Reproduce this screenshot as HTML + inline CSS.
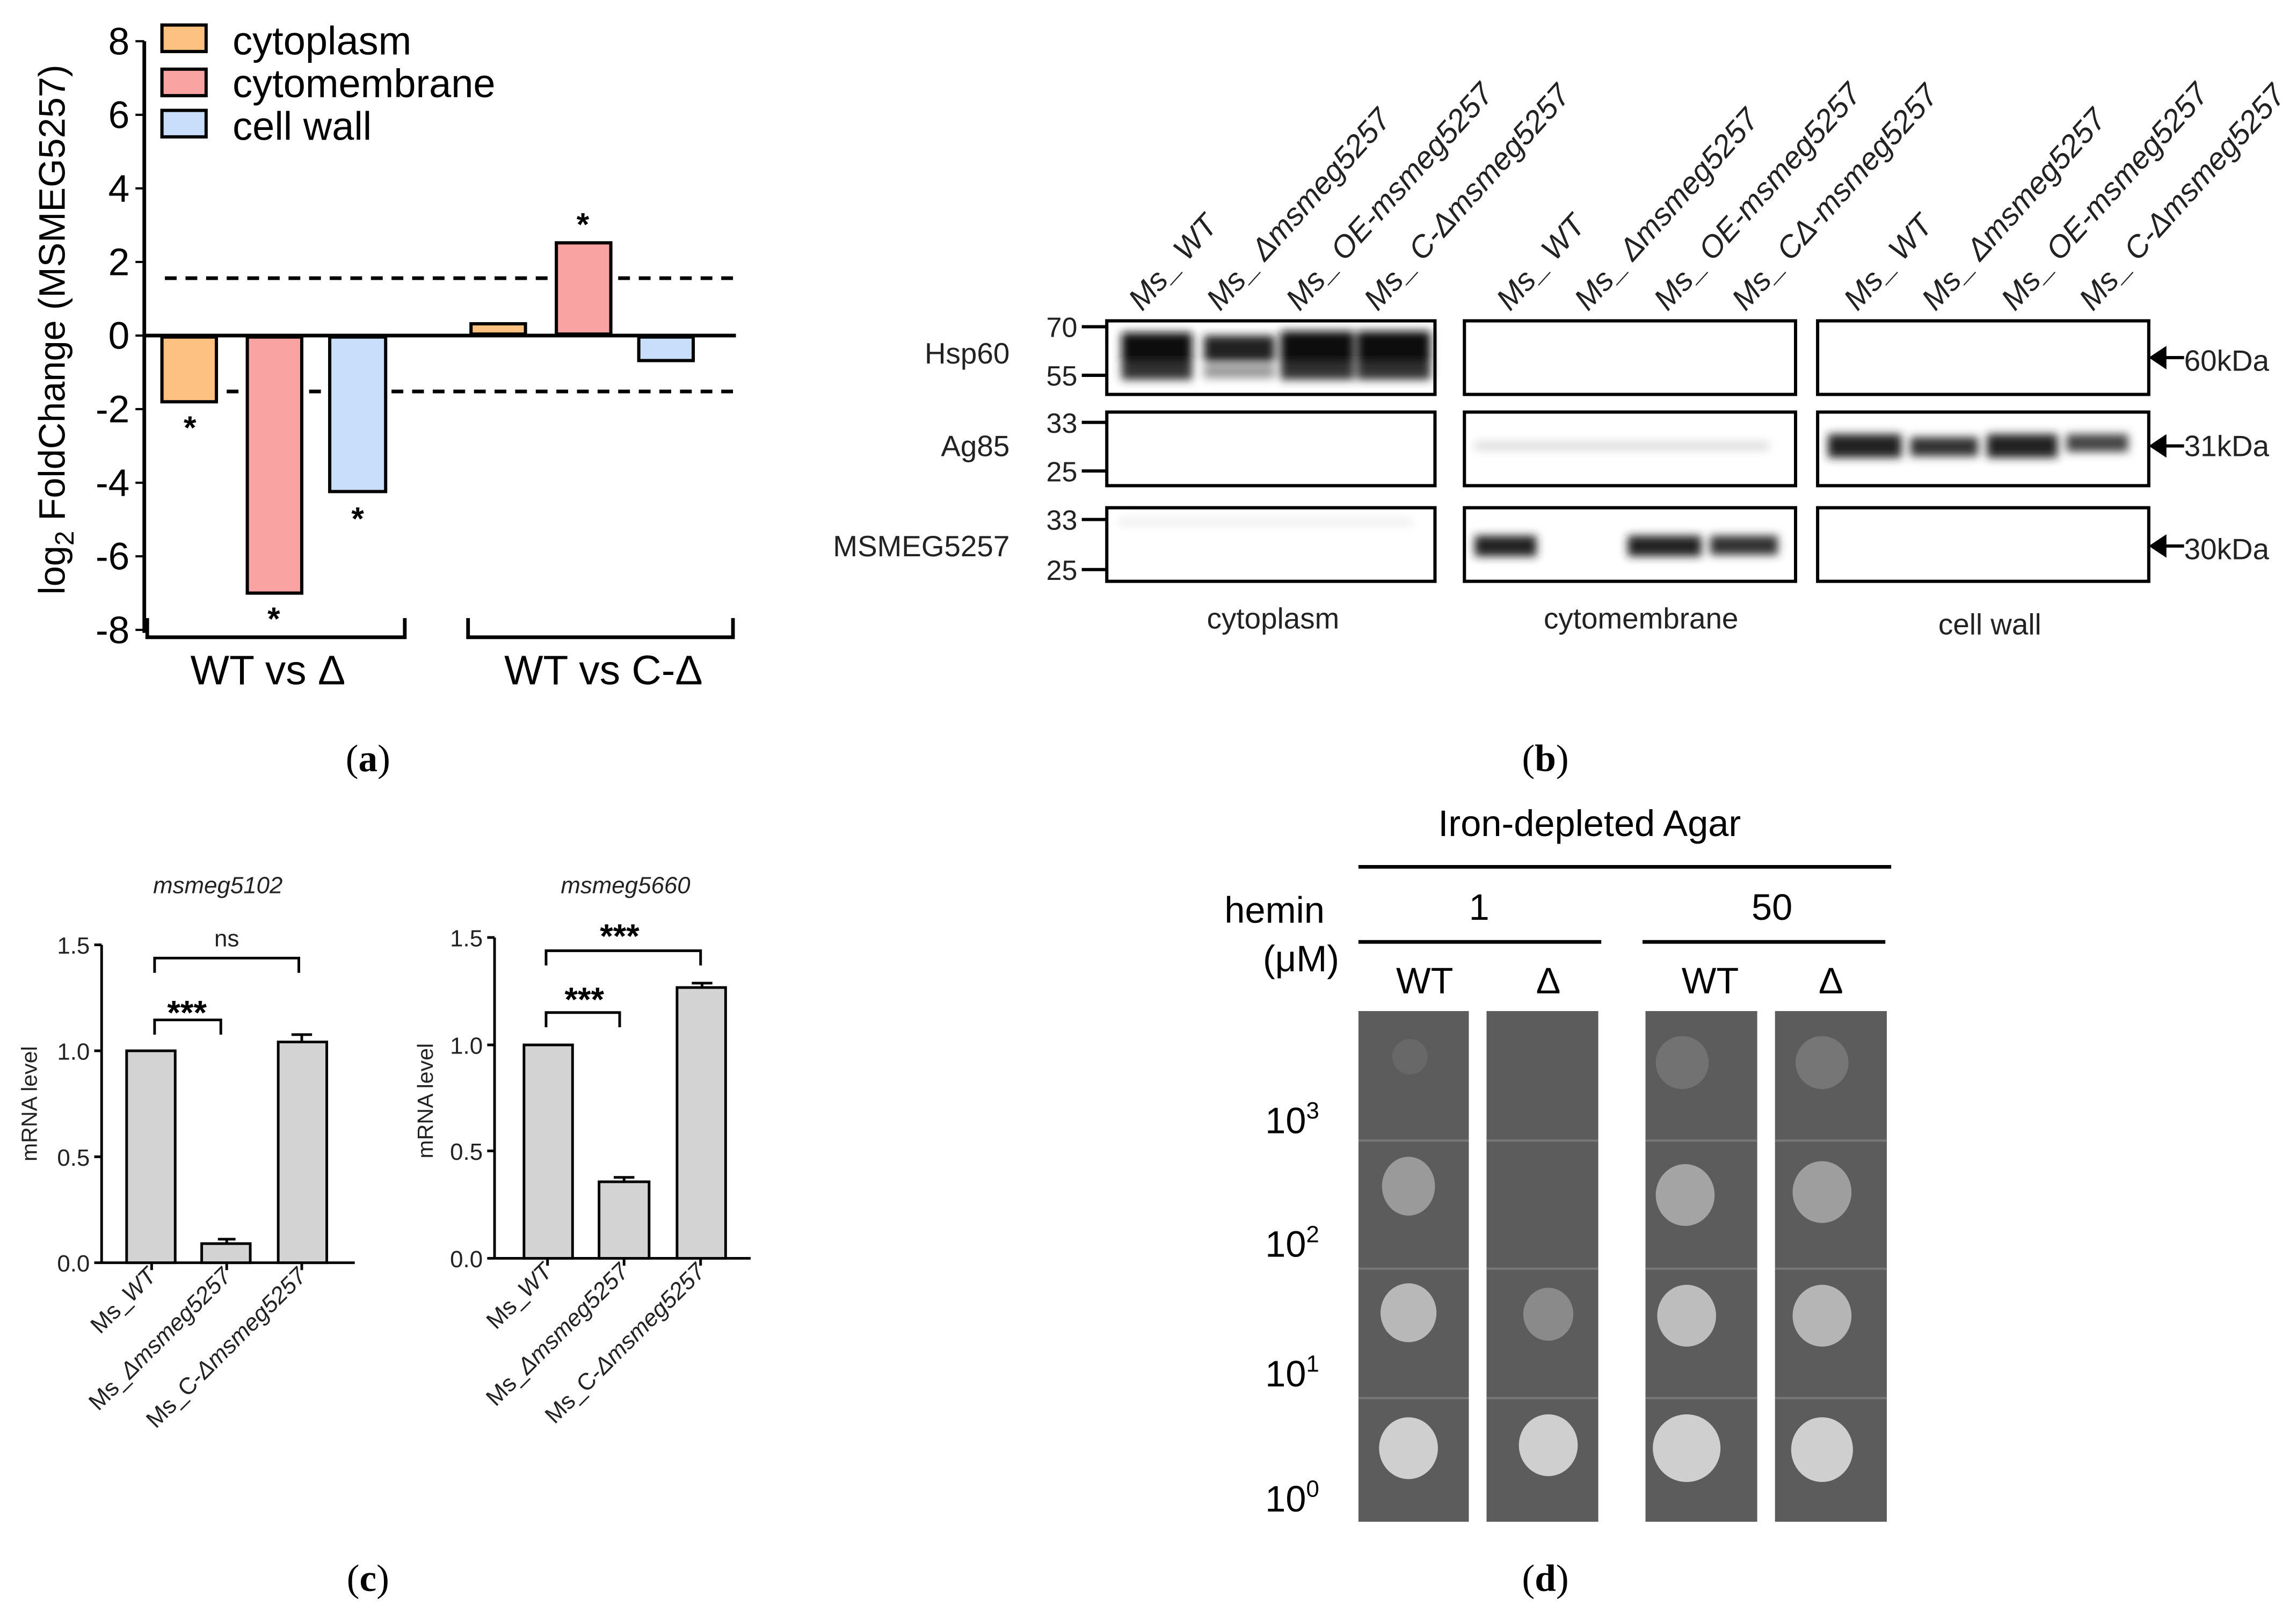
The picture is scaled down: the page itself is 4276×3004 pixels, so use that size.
<!DOCTYPE html>
<html><head><meta charset="utf-8"><style>html,body{margin:0;padding:0;background:#fff}svg{display:block}</style></head><body>
<svg xmlns="http://www.w3.org/2000/svg" width="4276" height="3004" viewBox="0 0 1560 1096" font-family="Liberation Sans, sans-serif">
<rect width="1560" height="1096" fill="#fff"/>
<!-- Panel a -->
<g stroke="#000" stroke-width="2.5" fill="none">
<line x1="98" y1="28" x2="98" y2="430"/>
<line x1="98" y1="228" x2="500" y2="228"/>
<g stroke-width="1.5"><line x1="92" y1="28" x2="98" y2="28"/><line x1="92" y1="78" x2="98" y2="78"/><line x1="92" y1="128" x2="98" y2="128"/><line x1="92" y1="178" x2="98" y2="178"/><line x1="92" y1="228" x2="98" y2="228"/><line x1="92" y1="278" x2="98" y2="278"/><line x1="92" y1="328" x2="98" y2="328"/><line x1="92" y1="378" x2="98" y2="378"/><line x1="92" y1="428" x2="98" y2="428"/></g>
<line x1="112" y1="189" x2="500" y2="189" stroke-dasharray="8,6"/>
<line x1="112" y1="266" x2="500" y2="266" stroke-dasharray="8,6"/>
<path d="M100 420 V433 H275 V420"/><path d="M318 420 V433 H498 V420"/>
</g>
<g stroke="#000" stroke-width="2.2">
<rect x="110" y="229" width="37" height="44" fill="#fdc282"/>
<rect x="168" y="229" width="37" height="174" fill="#f9a3a3"/>
<rect x="224" y="229" width="38" height="105" fill="#c8defa"/>
<rect x="320" y="220" width="37" height="7" fill="#fdc282"/>
<rect x="378" y="165" width="37" height="62" fill="#f9a3a3"/>
<rect x="434" y="229" width="37" height="16" fill="#c8defa"/>
<rect x="110" y="17" width="30" height="18" fill="#fdc282"/>
<rect x="110" y="47" width="30" height="18" fill="#f9a3a3"/>
<rect x="110" y="75" width="30" height="18" fill="#c8defa"/>
</g>
<g font-size="26" text-anchor="end">
<text x="88" y="37">8</text><text x="88" y="87">6</text><text x="88" y="137">4</text><text x="88" y="187">2</text><text x="88" y="237">0</text><text x="88" y="287">-2</text><text x="88" y="337">-4</text><text x="88" y="387">-6</text><text x="88" y="437">-8</text>
</g>
<g font-size="27"><text x="158" y="37">cytoplasm</text><text x="158" y="66">cytomembrane</text><text x="158" y="95">cell wall</text></g>
<text transform="translate(44,224) rotate(-90)" font-size="25" text-anchor="middle">log<tspan font-size="18" dy="6">2</tspan><tspan dy="-6"> FoldChange (MSMEG5257)</tspan></text>
<g font-size="22" font-weight="bold" text-anchor="middle"><text x="129" y="298">*</text><text x="186" y="428">*</text><text x="243" y="360">*</text><text x="396" y="160">*</text></g>
<g font-size="28" text-anchor="middle"><text x="182" y="465">WT vs Δ</text><text x="410" y="465">WT vs C-Δ</text></g>
<g font-family="Liberation Serif, serif" font-size="26" text-anchor="middle"><text x="250" y="524">(<tspan font-weight="bold">a</tspan>)</text><text x="1050" y="524">(<tspan font-weight="bold">b</tspan>)</text><text x="250" y="1081">(<tspan font-weight="bold">c</tspan>)</text><text x="1050" y="1081">(<tspan font-weight="bold">d</tspan>)</text></g>

<!-- Panel b -->
<defs><filter id="bl"><feGaussianBlur stdDeviation="3"/></filter></defs>
<g filter="url(#bl)">
<rect x="762" y="226" width="48" height="20" fill="#111"/><rect x="818" y="228" width="48" height="18" fill="#222"/><rect x="870" y="225" width="50" height="22" fill="#111"/><rect x="922" y="225" width="50" height="22" fill="#111"/>
<rect x="762" y="246" width="48" height="12" fill="#333"/><rect x="818" y="248" width="48" height="9" fill="#999"/><rect x="870" y="246" width="50" height="12" fill="#333"/><rect x="922" y="246" width="50" height="12" fill="#333"/>
<rect x="1242" y="295" width="50" height="16" fill="#222"/><rect x="1298" y="297" width="46" height="13" fill="#333"/><rect x="1350" y="295" width="48" height="16" fill="#222"/><rect x="1404" y="295" width="42" height="12" fill="#444"/>
<rect x="1002" y="364" width="42" height="14" fill="#222"/><rect x="1106" y="364" width="50" height="14" fill="#222"/><rect x="1162" y="364" width="46" height="13" fill="#333"/>
<rect x="1002" y="300" width="200" height="6" fill="#ddd"/>
<rect x="760" y="352" width="200" height="5" fill="#eee"/>
</g>
<g fill="none" stroke="#000" stroke-width="2.2">
<rect x="752" y="218" width="223" height="50"/><rect x="995" y="218" width="225" height="50"/><rect x="1235" y="218" width="225" height="50"/>
<rect x="752" y="280" width="223" height="50"/><rect x="995" y="280" width="225" height="50"/><rect x="1235" y="280" width="225" height="50"/>
<rect x="752" y="345" width="223" height="50"/><rect x="995" y="345" width="225" height="50"/><rect x="1235" y="345" width="225" height="50"/>
<line x1="735" y1="222" x2="752" y2="222"/><line x1="735" y1="255" x2="752" y2="255"/><line x1="735" y1="287" x2="752" y2="287"/><line x1="735" y1="320" x2="752" y2="320"/><line x1="735" y1="353" x2="752" y2="353"/><line x1="735" y1="387" x2="752" y2="387"/>
<line x1="1466" y1="243" x2="1484" y2="243"/><line x1="1466" y1="303" x2="1484" y2="303"/><line x1="1466" y1="371" x2="1484" y2="371"/>
</g>
<g fill="#000"><path d="M1460 243 l12 -8 v16z"/><path d="M1460 303 l12 -8 v16z"/><path d="M1460 371 l12 -8 v16z"/></g>
<g font-size="19" text-anchor="end" fill="#222"><text x="732" y="229">70</text><text x="732" y="262">55</text><text x="732" y="294">33</text><text x="732" y="327">25</text><text x="732" y="360">33</text><text x="732" y="394">25</text></g>
<g font-size="20" text-anchor="end" fill="#222"><text x="686" y="247">Hsp60</text><text x="686" y="310">Ag85</text><text x="686" y="378">MSMEG5257</text></g>
<g font-size="20" fill="#222"><text x="1484" y="252">60kDa</text><text x="1484" y="310">31kDa</text><text x="1484" y="380">30kDa</text></g>
<g font-size="20" text-anchor="middle" fill="#222"><text x="865" y="427">cytoplasm</text><text x="1115" y="427">cytomembrane</text><text x="1352" y="431">cell wall</text></g>
<g font-size="21" font-style="italic" fill="#222">
<text transform="translate(776,212) rotate(-48)">Ms_ WT</text>
<text transform="translate(829,212) rotate(-48)">Ms_ Δmsmeg5257</text>
<text transform="translate(883,212) rotate(-48)">Ms_ OE-msmeg5257</text>
<text transform="translate(936,212) rotate(-48)">Ms_ C-Δmsmeg5257</text>
<text transform="translate(1026,212) rotate(-48)">Ms_ WT</text>
<text transform="translate(1079,212) rotate(-48)">Ms_ Δmsmeg5257</text>
<text transform="translate(1133,212) rotate(-48)">Ms_ OE-msmeg5257</text>
<text transform="translate(1186,212) rotate(-48)">Ms_ CΔ-msmeg5257</text>
<text transform="translate(1262,212) rotate(-48)">Ms_ WT</text>
<text transform="translate(1315,212) rotate(-48)">Ms_ Δmsmeg5257</text>
<text transform="translate(1369,212) rotate(-48)">Ms_ OE-msmeg5257</text>
<text transform="translate(1422,212) rotate(-48)">Ms_ C-Δmsmeg5257</text>
</g>

<!-- Panel c -->
<g stroke="#000" stroke-width="1.8" fill="none">
<line x1="69" y1="642" x2="69" y2="858"/><line x1="69" y1="858" x2="241" y2="858"/>
<line x1="64" y1="642" x2="69" y2="642"/><line x1="64" y1="714" x2="69" y2="714"/><line x1="64" y1="786" x2="69" y2="786"/><line x1="64" y1="858" x2="69" y2="858"/>
<line x1="103" y1="858" x2="103" y2="863"/><line x1="154" y1="858" x2="154" y2="863"/><line x1="205" y1="858" x2="205" y2="863"/>
<path d="M105 661 V651 H203 V661"/><path d="M105 703 V693 H150 V703"/>
<line x1="336" y1="637" x2="336" y2="855"/><line x1="336" y1="855" x2="510" y2="855"/>
<line x1="331" y1="637" x2="336" y2="637"/><line x1="331" y1="710" x2="336" y2="710"/><line x1="331" y1="782" x2="336" y2="782"/><line x1="331" y1="855" x2="336" y2="855"/>
<line x1="372" y1="855" x2="372" y2="860"/><line x1="424" y1="855" x2="424" y2="860"/><line x1="476" y1="855" x2="476" y2="860"/>
<path d="M371 656 V646 H476 V656"/><path d="M371 698 V688 H421 V698"/>
<path d="M198 703 H212 M205 703 V708"/><path d="M417 800 H431 M424 800 V803"/><path d="M470 668 H484 M477 668 V671"/><path d="M148 842 H160 M154 842 V845"/>
</g>
<g stroke="#000" stroke-width="1.8" fill="#d3d3d3">
<rect x="86" y="714" width="33" height="144"/><rect x="137" y="845" width="33" height="13"/><rect x="189" y="708" width="33" height="150"/>
<rect x="356" y="710" width="33" height="145"/><rect x="407" y="803" width="34" height="52"/><rect x="460" y="671" width="33" height="184"/>
</g>
<g font-size="16" text-anchor="end" fill="#222"><text x="61" y="648">1.5</text><text x="61" y="720">1.0</text><text x="61" y="792">0.5</text><text x="61" y="864">0.0</text>
<text x="328" y="643">1.5</text><text x="328" y="716">1.0</text><text x="328" y="788">0.5</text><text x="328" y="861">0.0</text></g>
<g font-size="15" text-anchor="middle" fill="#222"><text transform="translate(25,750) rotate(-90)">mRNA level</text><text transform="translate(294,748) rotate(-90)">mRNA level</text>
<text x="154" y="643" font-size="16">ns</text></g>
<g font-size="16" font-style="italic" text-anchor="middle" fill="#222"><text x="148" y="607">msmeg5102</text><text x="425" y="607">msmeg5660</text></g>
<g font-size="23" font-weight="bold" text-anchor="middle"><text x="127" y="696">***</text><text x="421" y="644">***</text><text x="397" y="687">***</text></g>
<g font-size="16" text-anchor="end" fill="#222">
<text transform="translate(107,868) rotate(-45)">Ms_<tspan font-style="italic">WT</tspan></text>
<text transform="translate(158,868) rotate(-45)">Ms_<tspan font-style="italic">Δmsmeg5257</tspan></text>
<text transform="translate(209,868) rotate(-45)">Ms_C-<tspan font-style="italic">Δmsmeg5257</tspan></text>
<text transform="translate(376,865) rotate(-45)">Ms_<tspan font-style="italic">WT</tspan></text>
<text transform="translate(428,865) rotate(-45)">Ms_<tspan font-style="italic">Δmsmeg5257</tspan></text>
<text transform="translate(480,865) rotate(-45)">Ms_C-<tspan font-style="italic">Δmsmeg5257</tspan></text>
</g>

<!-- Panel d -->
<text x="1080" y="568" font-size="25" text-anchor="middle">Iron-depleted Agar</text>
<g stroke="#000" stroke-width="2.5"><line x1="923" y1="589" x2="1285" y2="589"/><line x1="923" y1="640" x2="1088" y2="640"/><line x1="1116" y1="640" x2="1281" y2="640"/></g>
<g font-size="25" text-anchor="middle"><text x="866" y="627">hemin</text><text x="884" y="660">(μM)</text><text x="1005" y="625">1</text><text x="1204" y="625">50</text>
<text x="968" y="675">WT</text><text x="1052" y="675">Δ</text><text x="1162" y="675">WT</text><text x="1244" y="675">Δ</text></g>
<g fill="#5c5c5c"><rect x="923" y="687" width="75" height="347"/><rect x="1010" y="687" width="76" height="347"/><rect x="1118" y="687" width="76" height="347"/><rect x="1206" y="687" width="76" height="347"/></g>
<g stroke="#777" stroke-width="1.5"><line x1="923" y1="775" x2="1282" y2="775"/><line x1="923" y1="862" x2="1282" y2="862"/><line x1="923" y1="950" x2="1282" y2="950"/></g>
<g fill="#fff"><rect x="998" y="686" width="12" height="350"/><rect x="1086" y="686" width="32" height="350"/><rect x="1194" y="686" width="12" height="350"/></g>
<g fill="#cfcfcf"><ellipse cx="957" cy="984" rx="20" ry="21"/><ellipse cx="1052" cy="982" rx="20" ry="21"/><ellipse cx="1146" cy="984" rx="23" ry="23"/><ellipse cx="1238" cy="985" rx="21" ry="22"/>
<ellipse cx="957" cy="892" rx="19" ry="20" fill="#b8b8b8"/><ellipse cx="1052" cy="893" rx="17" ry="18" fill="#8a8a8a"/><ellipse cx="1146" cy="894" rx="20" ry="21" fill="#bdbdbd"/><ellipse cx="1238" cy="894" rx="20" ry="21" fill="#b5b5b5"/>
<ellipse cx="957" cy="806" rx="18" ry="20" fill="#9a9a9a"/><ellipse cx="1145" cy="812" rx="20" ry="21" fill="#a4a4a4"/><ellipse cx="1238" cy="810" rx="20" ry="21" fill="#9e9e9e"/>
<ellipse cx="958" cy="718" rx="12" ry="12" fill="#686868"/><ellipse cx="1143" cy="722" rx="18" ry="18" fill="#727272"/><ellipse cx="1238" cy="722" rx="18" ry="18" fill="#767676"/></g>
<g font-size="25" text-anchor="middle"><text x="878" y="770">10<tspan font-size="16" dy="-10">3</tspan></text><text x="878" y="854">10<tspan font-size="16" dy="-10">2</tspan></text><text x="878" y="942">10<tspan font-size="16" dy="-10">1</tspan></text><text x="878" y="1027">10<tspan font-size="16" dy="-10">0</tspan></text></g>
</svg>
</body></html>
